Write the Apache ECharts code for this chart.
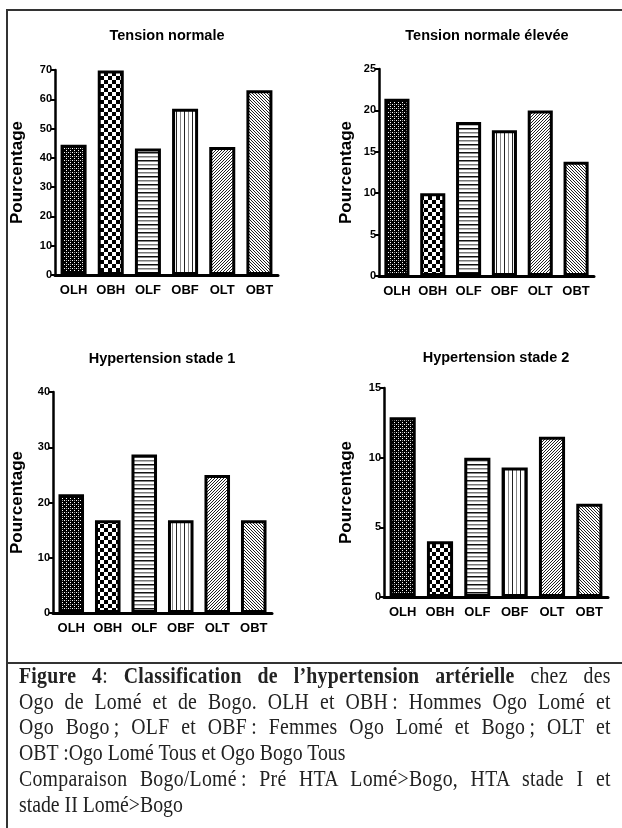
<!DOCTYPE html>
<html>
<head>
<meta charset="utf-8">
<script src="https://cdn.jsdelivr.net/npm/echarts@6/dist/echarts.min.js"></script>
<style>
html,body{margin:0;padding:0;background:#fff;}
#wrap{position:relative;width:622px;height:828px;overflow:hidden;}
#chart{position:absolute;left:0;top:0;width:622px;height:828px;}
#caption{position:absolute;left:19px;top:663px;width:688px;transform:scaleX(0.86);transform-origin:0 0;font-family:'Liberation Serif','Times New Roman',serif;font-size:23px;line-height:25.7px;color:#222;}
#caption div{white-space:nowrap;}
#caption .j{text-align:justify;text-align-last:justify;letter-spacing:0.3px;}
</style>
</head>
<body>
<div id="wrap">
<div id="chart"></div>
<div id="caption">
<div class="j"><b>Figure 4</b>: <b>Classification de l’hypertension artérielle</b> chez des</div>
<div class="j">Ogo de Lomé et de Bogo. OLH et OBH&thinsp;: Hommes Ogo Lomé et</div>
<div class="j">Ogo Bogo&thinsp;; OLF et OBF&thinsp;: Femmes Ogo Lomé et Bogo&thinsp;; OLT et</div>
<div>OBT :Ogo Lomé Tous et Ogo Bogo Tous</div>
<div class="j">Comparaison Bogo/Lomé&thinsp;: Pré HTA Lomé&gt;Bogo, HTA stade I et</div>
<div>stade II Lomé&gt;Bogo</div>
</div>
</div>
<script>
// ---- data ----
const categories = ['OLH', 'OBH', 'OLF', 'OBF', 'OLT', 'OBT'];
const panelTitles = ['Tension normale', 'Tension normale élevée', 'Hypertension stade 1', 'Hypertension stade 2'];
const tensionNormale = [44.5, 69.8, 43.2, 56.8, 43.7, 63.1];
const tensionNormaleElevee = [21.4, 10.0, 18.6, 17.6, 20.0, 13.8];
const hypertensionStade1 = [21.5, 16.8, 28.7, 16.8, 25.0, 16.8];
const hypertensionStade2 = [12.9, 4.0, 10.0, 9.3, 11.5, 6.7];
const yMax = [70, 25, 40, 15];
const yInterval = [10, 5, 10, 5];
const yAxisName = 'Pourcentage';

// ---- patterns ----
function mk(w, h, draw) {
  const c = document.createElement('canvas');
  c.width = w; c.height = h;
  const g = c.getContext('2d');
  g.fillStyle = '#fff'; g.fillRect(0, 0, w, h);
  draw(g);
  return { image: c, repeat: 'repeat' };
}
const patterns = [
  mk(4, 4, g => { g.fillStyle = '#000'; g.fillRect(0, 0, 4, 4); g.fillStyle = '#fff'; g.fillRect(0, 0, 1, 1); g.fillRect(2, 2, 1, 1); g.fillStyle = '#999'; g.fillRect(2, 0, 1, 1); }),
  mk(8, 8, g => { g.fillStyle = '#000'; g.fillRect(0, 0, 4, 4); g.fillRect(4, 4, 4, 4); }),
  mk(2, 8, g => { g.fillStyle = '#111'; g.fillRect(0, 0, 2, 1.5); g.fillStyle = '#777'; g.fillRect(0, 4, 2, 1.5); }),
  mk(8, 2, g => { g.fillStyle = '#222'; g.fillRect(0, 0, 1, 2); g.fillStyle = '#888'; g.fillRect(4, 0, 1, 2); }),
  mk(3, 3, g => { g.fillStyle = '#222'; g.fillRect(0, 2, 1, 1); g.fillRect(1, 1, 1, 1); g.fillRect(2, 0, 1, 1); }),
  mk(3, 3, g => { g.fillStyle = '#222'; g.fillRect(0, 0, 1, 1); g.fillRect(1, 1, 1, 1); g.fillRect(2, 2, 1, 1); })
];

const seriesValues = [tensionNormale, tensionNormaleElevee, hypertensionStade1, hypertensionStade2];
const grids = [
  { left: 55, top: 70, width: 223, height: 205 },
  { left: 379, top: 69, width: 215, height: 207 },
  { left: 53, top: 392, width: 219, height: 221 },
  { left: 384, top: 388, width: 224, height: 209 }
];
const nameGaps = [29, 24, 27, 29];
const titlePos = [[167, 28], [487, 28], [162, 351], [496, 350]];

const sans = "'Liberation Sans',Arial,sans-serif";

const chart = echarts.init(document.getElementById('chart'), null, { renderer: 'canvas' });
const option = {
  animation: false,
  backgroundColor: '#fff',
  title: panelTitles.map((t, i) => ({
    text: t, left: titlePos[i][0], top: titlePos[i][1], textAlign: 'center', padding: 0,
    textStyle: { fontFamily: sans, fontWeight: 'bold', fontSize: 14.5, color: '#000' }
  })),
  grid: grids.map(g => Object.assign({ containLabel: false }, g)),
  xAxis: grids.map((g, i) => ({
    type: 'category', gridIndex: i, data: categories,
    axisLine: { lineStyle: { color: '#000', width: 3 } },
    axisTick: { alignWithLabel: true, length: 5, lineStyle: { color: '#000', width: 2 } },
    axisLabel: { interval: 0, color: '#000', fontFamily: sans, fontWeight: 'bold', fontSize: 13, margin: 9 }
  })),
  yAxis: grids.map((g, i) => ({
    type: 'value', gridIndex: i, min: 0, max: yMax[i], interval: yInterval[i],
    name: yAxisName, nameLocation: 'middle', nameRotate: 90, nameGap: nameGaps[i],
    nameTextStyle: { fontFamily: sans, fontWeight: 'bold', fontSize: 17, color: '#000' },
    splitLine: { show: false },
    axisLine: { show: true, lineStyle: { color: '#000', width: 2.5 } },
    axisTick: { show: true, length: 4, lineStyle: { color: '#000', width: 2 } },
    axisLabel: { color: '#000', fontFamily: sans, fontWeight: 'bold', fontSize: 11, margin: 3 }
  })),
  series: seriesValues.map((vals, i) => ({
    type: 'bar', xAxisIndex: i, yAxisIndex: i, barWidth: '70%',
    data: vals.map((v, j) => ({ value: v, itemStyle: { color: patterns[j] } })),
    itemStyle: { borderColor: '#000', borderWidth: 3 }
  })),
  graphic: [
    { type: 'line', shape: { x1: 6, y1: 10, x2: 622, y2: 10 }, style: { stroke: '#333', lineWidth: 2 } },
    { type: 'line', shape: { x1: 7, y1: 10, x2: 7, y2: 828 }, style: { stroke: '#333', lineWidth: 2 } },
    { type: 'line', shape: { x1: 7, y1: 663, x2: 622, y2: 663 }, style: { stroke: '#333', lineWidth: 2 } }
  ]
};
chart.setOption(option);
</script>
</body>
</html>
